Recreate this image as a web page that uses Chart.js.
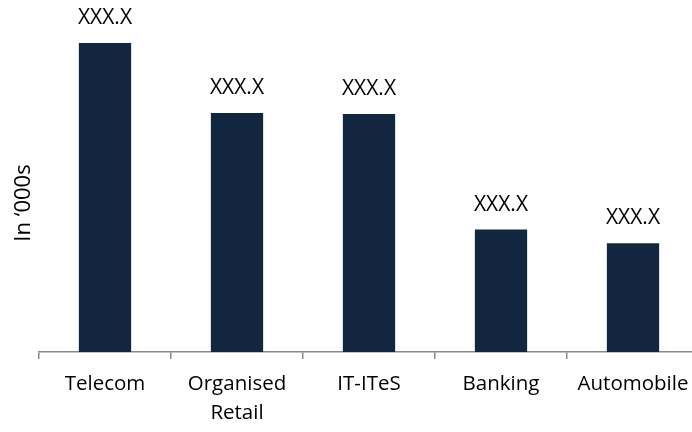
<!DOCTYPE html>
<html>
<head>
<meta charset="utf-8">
<script src="https://cdn.jsdelivr.net/npm/chart.js@4/dist/chart.umd.min.js"></script>
<style>
  html, body { margin: 0; padding: 0; background: #fff; overflow: hidden; }
  #wrap { width: 700px; height: 432px; }
</style>
</head>
<body>
<div id="wrap"><canvas id="sectorChart"></canvas></div>
<script>
const sectors = ['Telecom', ['Organised', 'Retail'], 'IT-ITeS', 'Banking', 'Automobile'];
const employment = [318, 246, 245, 126, 112];
const valueLabels = ['XXX.X', 'XXX.X', 'XXX.X', 'XXX.X', 'XXX.X'];
const yTitle = 'In ‘000s';

const FONT = "'Open Sans', 'Noto Sans', sans-serif";

// value caption above each bar, plus the rotated unit label on the left
const barCaptions = {
  id: 'barCaptions',
  afterDatasetsDraw(chart) {
    const ctx = chart.ctx;
    const meta = chart.getDatasetMeta(0);
    ctx.save();
    ctx.font = '21px ' + FONT;
    ctx.fillStyle = '#000';
    ctx.textAlign = 'center';
    ctx.textBaseline = 'middle';
    meta.data.forEach((bar, i) => {
      ctx.fillText(valueLabels[i], bar.x, bar.y - 25);
    });

    ctx.translate(24, 203);
    ctx.rotate(-Math.PI / 2);
    ctx.font = '22px ' + FONT;
    ctx.fillText(yTitle, 0, 0);
    ctx.restore();
  }
};

new Chart(document.getElementById('sectorChart'), {
  type: 'bar',
  data: {
    labels: sectors,
    datasets: [{
      data: employment,
      backgroundColor: '#132640',
      borderWidth: 0,
      categoryPercentage: 1,
      barPercentage: 0.396
    }]
  },
  options: {
    responsive: true,
    maintainAspectRatio: false,
    animation: false,
    layout: { padding: { top: 12, left: 39, right: 1, bottom: -6 } },
    plugins: { legend: { display: false }, tooltip: { enabled: false } },
    scales: {
      x: {
        grid: {
          display: true,
          offset: true,
          drawOnChartArea: false,
          drawTicks: true,
          tickLength: 7,
          color: '#8a8a8a',
          lineWidth: 1.5
        },
        border: { color: '#8a8a8a', width: 1.5 },
        ticks: {
          color: '#000',
          font: { family: FONT, size: 20.5, lineHeight: 1.44 },
          padding: 10,
          maxRotation: 0,
          autoSkip: false
        }
      },
      y: {
        display: false,
        min: 0,
        max: 350
      }
    }
  },
  plugins: [barCaptions]
});
</script>
</body>
</html>
